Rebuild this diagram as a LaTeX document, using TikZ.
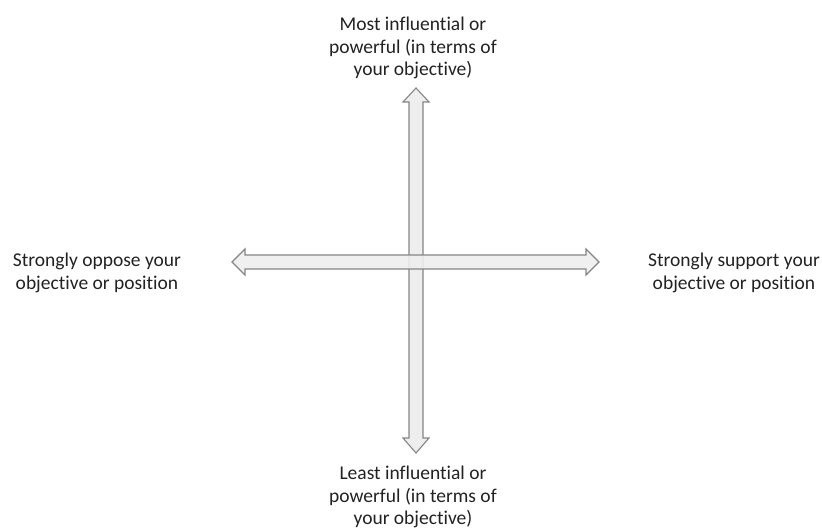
\documentclass[tikz,border=0pt]{standalone}
\usepackage{fontspec}
\setmainfont{Carlito}[Ligatures=NoCommon]
\usetikzlibrary{calc}
\definecolor{arrfill}{HTML}{EEEEEE}
\definecolor{arrline}{HTML}{858585}
\definecolor{txt}{HTML}{222222}
\begin{document}
\begin{tikzpicture}[x=1pt,y=-1pt,
  arr/.style={draw=arrline,fill=arrfill,line width=1.1pt,line join=miter},
  lbl/.style={align=center,inner sep=0pt,text=txt,font=\fontsize{19.5}{22.5}\selectfont}]
\useasboundingbox (0,0) rectangle (822,529);
% vertical double arrow
\coordinate (vt) at (416,88);
\coordinate (vb) at (416,453);
\draw[arr] (vt) -- ($(vt)+(13,14)$) -- ($(vt)+(7,14)$) -- ($(vb)+(7,-15)$) -- ($(vb)+(13,-15)$) -- (vb)
  -- ($(vb)+(-13,-15)$) -- ($(vb)+(-7,-15)$) -- ($(vt)+(-7,14)$) -- ($(vt)+(-13,14)$) -- cycle;
% horizontal double arrow
\coordinate (hl) at (232,262);
\coordinate (hr) at (599,262);
\draw[arr,fill opacity=0.9] (hl) -- ($(hl)+(13,-13)$) -- ($(hl)+(13,-7)$) -- ($(hr)+(-13,-7)$) -- ($(hr)+(-13,-13)$) -- (hr)
  -- ($(hr)+(-13,13)$) -- ($(hr)+(-13,7)$) -- ($(hl)+(13,7)$) -- ($(hl)+(13,13)$) -- cycle;
% labels
\node[lbl] (top) at (413,48) {Most influential or\\powerful (in terms of\\your objective)};
\node[lbl] (bot) at (413,497) {Least influential or\\powerful (in terms of\\your objective)};
\node[lbl] (left) at (97,273) {Strongly oppose your\\objective or position};
\node[lbl] (right) at (734,273) {Strongly support your\\objective or position};
\end{tikzpicture}
\end{document}
